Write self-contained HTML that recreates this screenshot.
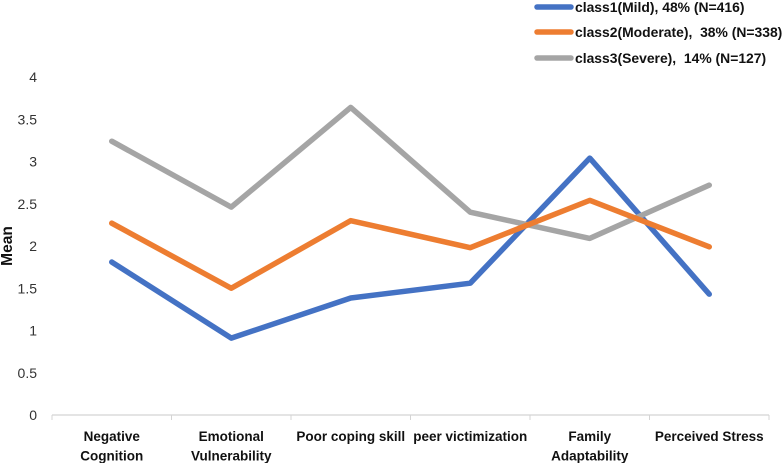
<!DOCTYPE html>
<html lang="en">
<head>
<meta charset="utf-8">
<title>Mean scores by latent class</title>
<style>
html,body{margin:0;padding:0;background:#fff;}
#chart{display:block;width:784px;height:463px;font-family:"Liberation Sans",sans-serif;}
</style>
</head>
<body>
<svg id="chart" xmlns="http://www.w3.org/2000/svg" width="784" height="463" viewBox="0 0 784 463"></svg>
<script>
const categories = [["Negative","Cognition"],["Emotional","Vulnerability"],["Poor coping skill"],["peer victimization"],["Family","Adaptability"],["Perceived Stress"]];
const class1Values = [1.81, 0.91, 1.385, 1.56, 3.04, 1.43];
const class2Values = [2.27, 1.50, 2.30, 1.98, 2.54, 1.99];
const class3Values = [3.24, 2.46, 3.64, 2.40, 2.09, 2.72];
const yTicks = [0, 0.5, 1, 1.5, 2, 2.5, 3, 3.5, 4];
const class1Name = "class1(Mild), 48% (N=416)";
const class2Name = "class2(Moderate),  38% (N=338)";
const class3Name = "class3(Severe),  14% (N=127)";

const svg = document.getElementById('chart');
const NS = 'http://www.w3.org/2000/svg';
const left = 52, right = 769, y0 = 415, y4 = 77;
const band = (right - left) / categories.length;
const xPos = i => left + band * (i + 0.5);
const yPos = v => y0 - (v / 4) * (y0 - y4);

function make(tag, attrs, text) {
  const el = document.createElementNS(NS, tag);
  for (const k in attrs) el.setAttribute(k, attrs[k]);
  if (text !== undefined) {
    el.textContent = text;
    el.setAttribute('xml:space', 'preserve');
    el.style.whiteSpace = 'pre';
  }
  svg.appendChild(el);
  return el;
}

// y tick labels
yTicks.forEach(t => {
  const el = make('text', {x: 37, y: yPos(t) + 5, 'text-anchor': 'end', 'font-size': 14, fill: '#333'}, String(t));
  
  
});

// y axis title
const yTitle = make('text', {transform: 'translate(12 246) rotate(-90)', 'text-anchor': 'middle', 'font-size': 15.5, 'font-weight': 'bold', fill: '#111'}, 'Mean');



// x axis
const axis = make('line', {x1: left, x2: right, y1: y0, y2: y0, stroke: '#d4d4d4', 'stroke-width': 1.2});


for (let i = 0; i <= categories.length; i++) {
  const tick = make('line', {x1: left + band * i, x2: left + band * i, y1: y0, y2: y0 + 5, stroke: '#d4d4d4', 'stroke-width': 1});
  
  
}

// category labels
categories.forEach((lines, i) => {
  lines.forEach((line, j) => {
    const el = make('text', {x: xPos(i), y: 441 + j * 19.5, 'text-anchor': 'middle', 'font-size': 13.5, 'font-weight': 'bold', fill: '#111'}, line);
    
    
  });
});

// series
function drawSeries(values, color, name) {
  const pts = values.map((v, i) => xPos(i) + ',' + yPos(v)).join(' ');
  const el = make('polyline', {points: pts, fill: 'none', stroke: color, 'stroke-width': 5.5, 'stroke-linecap': 'round', 'stroke-linejoin': 'round'});
  
  
}
drawSeries(class1Values, '#4472C4', 'series-class1-mild');
drawSeries(class3Values, '#A5A5A5', 'series-class3-severe');
drawSeries(class2Values, '#ED7D31', 'series-class2-moderate');

// legend
function drawLegend(label, color, rowY, nameLine, nameText) {
  const l = make('line', {x1: 537, x2: 571, y1: rowY, y2: rowY, stroke: color, 'stroke-width': 5.5, 'stroke-linecap': 'round'});
  
  
  const t = make('text', {x: 575, y: rowY + 5, 'font-size': 13.9, 'font-weight': 'bold', fill: '#111'}, label);
  
  
}
drawLegend(class1Name, '#4472C4', 7, 'legend-line-class1', 'legend-label-class1');
drawLegend(class2Name, '#ED7D31', 32, 'legend-line-class2', 'legend-label-class2');
drawLegend(class3Name, '#A5A5A5', 58, 'legend-line-class3', 'legend-label-class3');
</script>
</body>
</html>
